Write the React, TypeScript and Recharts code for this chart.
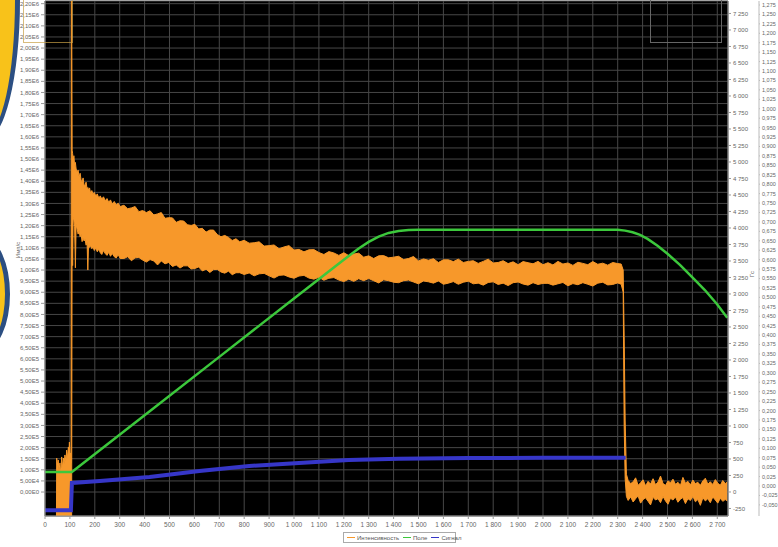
import { ComposedChart, Area, Line, XAxis, YAxis, CartesianGrid, Legend } from 'recharts';

// Интенсивность: [x, нижний край шума, верхний край шума], значения в тысячах
const intensity: [number, number, number][] = [
  [46, -110, -110], [47, -110, 153], [50, -110, 120], [53, -110, 144], [56, -110, 95],
  [60, -110, 131], [63, -110, 80], [67, -110, 158], [70, -110, 110], [74, -110, 153],
  [77, -110, 125], [80, -110, 167], [84, -110, 140], [87, -110, 189], [90, -110, 150],
  [94, -110, 203], [96, -110, 170], [98, -110, 225], [101, -110, 160], [103, -110, 176],
  [105, -110, 130], [106, -110, 2300], [107, -110, 2300],
  [109, 1210, 1540], [111, 1020, 1525], [113, 1240, 1490], [116, 1225, 1515], [119, 1195, 1470],
  [122, 1010, 1485], [125, 1205, 1455], [129, 1185, 1442], [133, 1162, 1450], [137, 1178, 1418],
  [141, 1150, 1436], [145, 1160, 1405], [149, 1128, 1398], [153, 1146, 1415], [157, 1131, 1380],
  [161, 1138, 1384], [165, 1112, 1396], [169, 1124, 1364], [172, 1000, 1372], [175, 1118, 1360],
  [179, 1102, 1370], [183, 1110, 1345], [188, 1096, 1358], [193, 1104, 1341], [198, 1088, 1350],
  [204, 1099, 1333], [210, 1082, 1343], [216, 1094, 1324], [222, 1078, 1334], [228, 1070, 1320],
  [235, 1088, 1330], [242, 1074, 1312], [249, 1066, 1322], [256, 1080, 1305], [263, 1062, 1316],
  [270, 1075, 1298], [278, 1060, 1309], [286, 1054, 1294], [294, 1069, 1301], [302, 1052, 1286],
  [317, 1052, 1292], [332, 1060, 1276], [347, 1042, 1280], [362, 1055, 1286], [377, 1057, 1263],
  [392, 1045, 1268], [407, 1036, 1259], [422, 1047, 1267], [437, 1041, 1248], [452, 1023, 1253],
  [467, 1041, 1259], [482, 1028, 1233], [497, 1034, 1236], [512, 1016, 1235], [527, 1023, 1215],
  [542, 1009, 1222], [557, 1019, 1221], [572, 1019, 1204], [587, 1005, 1201], [602, 1007, 1206],
  [617, 1014, 1185], [632, 996, 1188], [647, 1004, 1171], [662, 989, 1180], [677, 1002, 1180],
  [692, 1003, 1160], [707, 991, 1150], [722, 986, 1156], [737, 995, 1147], [752, 979, 1133],
  [767, 988, 1141], [782, 988, 1127],
  [800, 980, 1134], [820, 987, 1121], [840, 974, 1123], [860, 983, 1127], [880, 985, 1108],
  [900, 974, 1110], [920, 964, 1113], [940, 976, 1096], [960, 978, 1104], [980, 969, 1110],
  [1000, 963, 1090], [1020, 973, 1093], [1040, 976, 1082], [1060, 964, 1091], [1080, 959, 1092],
  [1100, 967, 1079], [1120, 954, 1070], [1140, 963, 1083], [1160, 966, 1077], [1180, 955, 1066],
  [1200, 948, 1078], [1220, 959, 1065], [1240, 949, 1072], [1260, 961, 1076], [1280, 952, 1058],
  [1300, 962, 1064], [1320, 952, 1052], [1340, 942, 1064], [1360, 956, 1065], [1380, 952, 1055],
  [1400, 945, 1058], [1420, 943, 1062], [1440, 952, 1047], [1460, 955, 1052], [1480, 946, 1061],
  [1500, 938, 1041], [1520, 951, 1050], [1540, 947, 1044], [1560, 941, 1051], [1580, 951, 1034],
  [1600, 936, 1046], [1620, 941, 1046], [1640, 948, 1038], [1660, 936, 1049], [1680, 945, 1034],
  [1700, 950, 1039], [1720, 938, 1042], [1740, 941, 1030], [1760, 932, 1039], [1780, 944, 1049],
  [1800, 947, 1032], [1820, 935, 1034], [1840, 941, 1042], [1860, 930, 1029], [1880, 943, 1037],
  [1900, 946, 1024], [1920, 937, 1038], [1940, 932, 1033], [1960, 943, 1028], [1980, 935, 1039],
  [2000, 940, 1024], [2020, 940, 1033], [2040, 932, 1023], [2060, 938, 1039], [2080, 944, 1027],
  [2100, 929, 1032], [2120, 939, 1021], [2140, 934, 1035], [2160, 943, 1030], [2180, 936, 1024],
  [2200, 928, 1038], [2220, 941, 1026], [2240, 945, 1031], [2260, 933, 1022], [2280, 935, 1034],
  [2300, 942, 1029], [2314, 936, 1027],
  [2322, 900, 1000], [2326, 300, 700], [2330, 60, 320], [2335, -20, 80],
  [2342, -38, 52], [2352, -22, 38], [2362, -45, 46], [2372, -30, 64], [2382, -18, 30],
  [2392, -50, 42], [2402, -34, 55], [2412, -26, 28], [2422, -42, 48], [2432, -58, 36],
  [2442, -24, 60], [2452, -36, 33], [2462, -30, 45], [2472, -48, 72], [2482, -20, 38],
  [2492, -40, 30], [2502, -55, 50], [2512, -28, 42], [2522, -36, 58], [2532, -22, 35],
  [2542, -46, 44], [2552, -32, 30], [2562, -25, 66], [2572, -52, 40], [2582, -30, 48],
  [2592, -38, 32], [2602, -20, 54], [2612, -44, 38], [2622, -34, 44], [2632, -60, 30],
  [2642, -26, 50], [2652, -40, 62], [2662, -30, 36], [2672, -48, 46], [2682, -22, 34],
  [2692, -36, 56], [2702, -50, 40], [2712, -28, 30], [2722, -42, 52], [2732, -34, 38],
  [2740, -40, 45],
];

// Поле: [x, значение]
const field: [number, number][] = [
  [0, 303], [108, 303], [400, 1163], [700, 2047], [1000, 2931], [1200, 3520],
  [1260, 3690], [1300, 3790], [1340, 3870], [1380, 3925], [1420, 3955], [1460, 3968],
  [1500, 3972], [2300, 3972], [2330, 3960], [2360, 3935], [2390, 3895], [2420, 3835],
  [2460, 3730], [2500, 3610], [2550, 3440], [2600, 3250], [2650, 3060], [2700, 2840],
  [2740, 2640],
];

// Сигнал: [x, значение]
const signal: [number, number][] = [
  [0, -0.064], [52, -0.064], [104, -0.064], [108, 0.008], [220, 0.013], [420, 0.024],
  [620, 0.04], [820, 0.053], [1020, 0.061], [1220, 0.069], [1420, 0.072], [1700, 0.074],
  [2000, 0.075], [2332, 0.075],
];

const seriesNames = ['Интенсивность', 'Поле', 'Сигнал'];
const seriesColors = ['#f7982a', '#3cc83c', '#3636c8'];

const xTicks = Array.from({ length: 28 }, (_, i) => i * 100);
const leftTicks = Array.from({ length: 45 }, (_, i) => i * 50);
const fieldTicks = Array.from({ length: 31 }, (_, i) => -250 + i * 250);
const signalTicks = Array.from({ length: 54 }, (_, i) => (-50 + i * 25) / 1000);

const FONT = '"Liberation Sans", Arial, sans-serif';
const tickStyle = { fontSize: 6, fill: '#666', fontFamily: FONT };

// разделитель разрядов — неразрывный пробел, чтобы подпись не переносилась
const spaced = (n: number) => {
  const a = Math.abs(n);
  if (a < 1000) return String(n);
  const s = `${Math.floor(a / 1000)}\u00A0${String(a % 1000).padStart(3, '0')}`;
  return n < 0 ? '-' + s : s;
};
const fmtLeft = (v: number) => (v * 1000).toExponential(2).replace('.', ',').replace('e+', 'E');
const fmtSignal = (v: number) => v.toFixed(3).replace('.', ',');

const intensityData = intensity.map(([x, lo, hi]) => ({ x, band: [lo, hi] }));
const fieldData = field.map(([x, v]) => ({ x, v }));
const signalData = signal.map(([x, v]) => ({ x, v }));

function LegendBox() {
  return (
    <div
      style={{
        display: 'flex',
        alignItems: 'center',
        gap: 4,
        height: 11,
        padding: '0 3px',
        border: '1px solid #aaa',
        background: '#fff',
        boxSizing: 'border-box',
        fontSize: 6,
        fontFamily: FONT,
        color: '#555',
        whiteSpace: 'nowrap',
      }}
    >
      {seriesNames.map((n, i) => (
        <span key={n} style={{ display: 'flex', alignItems: 'center' }}>
          <span style={{ width: 8, height: 1.5, background: seriesColors[i], marginRight: 2 }} />
          {n}
        </span>
      ))}
    </div>
  );
}

export default function App() {
  return (
    <div style={{ position: 'absolute', left: 0, top: 0, width: 778, height: 547, background: '#fff', overflow: 'hidden' }}>
      {/* края соседней страницы на скане */}
      <div style={{ position: 'absolute', left: -50, top: -140, width: 60, height: 270, borderRadius: '50%', background: '#f8c21a', border: '5px solid #2c4f82' }} />
      <div style={{ position: 'absolute', left: -42, top: 238, width: 42, height: 102, borderRadius: '50%', background: '#f8c21a', border: '5px solid #2c4f82' }} />

      <ComposedChart width={778} height={547} margin={{ top: 1, right: 0, bottom: 0, left: 0 }} style={{ position: 'absolute', left: 0, top: 0 }}>
        <CartesianGrid yAxisId="left" fill="#000" stroke="#474747" strokeWidth={1} />
        <XAxis
          dataKey="x"
          type="number"
          domain={[0, 2743]}
          allowDataOverflow
          ticks={xTicks}
          interval={0}
          tickFormatter={spaced}
          tick={{ ...tickStyle, fontSize: 6.5 }}
          tickSize={3}
          tickMargin={3}
          height={17}
          stroke="#999"
        />
        <YAxis
          yAxisId="left"
          orientation="left"
          width={45}
          domain={[-108, 2212]}
          allowDataOverflow
          ticks={leftTicks}
          interval={0}
          tickFormatter={fmtLeft}
          tick={tickStyle}
          tickSize={4}
          tickMargin={2}
          stroke="#999"
        />
        <YAxis
          yAxisId="field"
          orientation="right"
          width={31}
          domain={[-364, 7439]}
          allowDataOverflow
          ticks={fieldTicks}
          interval={0}
          tickFormatter={spaced}
          tick={tickStyle}
          tickSize={3}
          tickMargin={2}
          stroke="#999"
        />
        <YAxis
          yAxisId="signal"
          orientation="right"
          width={19}
          domain={[-0.0795, 1.2856]}
          allowDataOverflow
          ticks={signalTicks}
          interval={0}
          tickFormatter={fmtSignal}
          tick={{ ...tickStyle, fontSize: 5.5 }}
          tickSize={1}
          tickMargin={2}
          stroke="#bbb"
        />
        <Line
          yAxisId="signal"
          data={signalData}
          dataKey="v"
          type="linear"
          stroke={seriesColors[2]}
          strokeWidth={4}
          dot={false}
          name={seriesNames[2]}
          isAnimationActive={false}
        />
        <Area
          yAxisId="left"
          data={intensityData}
          dataKey="band"
          type="linear"
          stroke={seriesColors[0]}
          strokeWidth={1}
          fill={seriesColors[0]}
          fillOpacity={1}
          name={seriesNames[0]}
          isAnimationActive={false}
        />
        <Line
          yAxisId="field"
          data={fieldData}
          dataKey="v"
          type="linear"
          stroke={seriesColors[1]}
          strokeWidth={2.5}
          dot={false}
          name={seriesNames[1]}
          isAnimationActive={false}
        />
        <Legend
          verticalAlign="bottom"
          height={14}
          content={() => <LegendBox />}
          wrapperStyle={{ left: 343, width: 113, bottom: 1 }}
        />
      </ComposedChart>

      <div style={{ position: 'absolute', left: 18, top: 250, transform: 'translate(-50%, -50%) rotate(-90deg)', fontSize: 6, fontFamily: FONT, color: '#666', whiteSpace: 'nowrap' }}>
        Имп/с
      </div>
      <div style={{ position: 'absolute', left: 752, top: 274, transform: 'translate(-50%, -50%) rotate(-90deg)', fontSize: 6, fontFamily: FONT, color: '#666', whiteSpace: 'nowrap' }}>
        Гс
      </div>
      <div style={{ position: 'absolute', left: 23, top: -1, width: 48, height: 42, border: '1px solid rgba(200,160,70,0.7)' }} />
      <div style={{ position: 'absolute', left: 650, top: -1, width: 70, height: 42, border: '1px solid #666' }} />
    </div>
  );
}
